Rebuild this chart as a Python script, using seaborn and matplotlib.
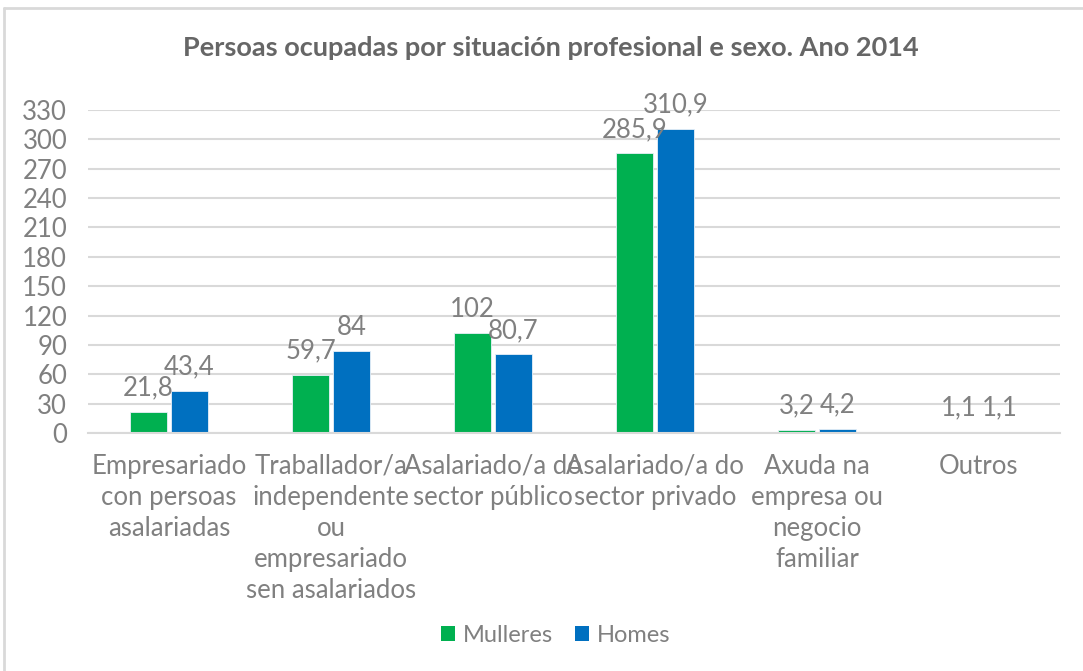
import matplotlib
matplotlib.use("Agg")
import matplotlib.pyplot as plt
import seaborn as sns
import pandas as pd
from matplotlib.lines import Line2D
from matplotlib.patches import Patch

categories = [
    "Empresariado\ncon persoas\nasalariadas",
    "Traballador/a\nindependente\nou\nempresariado\nsen asalariados",
    "Asalariado/a do\nsector público",
    "Asalariado/a do\nsector privado",
    "Axuda na\nempresa ou\nnegocio\nfamiliar",
    "Outros",
]
mulleres = [21.8, 59.7, 102, 285.9, 3.2, 1.1]
homes = [43.4, 84, 80.7, 310.9, 4.2, 1.1]
series = ["Mulleres", "Homes"]
colors = ["#00B050", "#0070C0"]
yticks = list(range(0, 331, 30))

df = pd.DataFrame({
    "cat": categories * 2,
    "serie": [series[0]] * 6 + [series[1]] * 6,
    "val": mulleres + homes,
})

sns.set_theme(style="white")
plt.rcParams["font.family"] = ["Lato", "DejaVu Sans"]
txt = "#808080"
fs = 18.5

fig = plt.figure(figsize=(10.83, 6.71), dpi=100)
ax = fig.add_axes([88 / 1083, 1 - 433 / 671, (1060 - 88) / 1083, (433 - 110) / 671])

sns.barplot(data=df, x="cat", y="val", hue="serie", hue_order=series,
            palette=colors, saturation=1, width=0.506, gap=0.12, ax=ax, legend=False,
            edgecolor="#e8f0f8", linewidth=0.6)

ax.set_ylim(0, 330)
ax.set_xlim(-0.5, 5.5)
ax.set_yticks(yticks)
ax.set_yticklabels([str(t) for t in yticks], color=txt, fontsize=fs)
ax.yaxis.grid(True, color="#d9d9d9", linewidth=1.5)
ax.set_axisbelow(True)
for s in ["top", "right", "left"]:
    ax.spines[s].set_visible(False)
ax.spines["bottom"].set_color("#d9d9d9")
ax.spines["bottom"].set_linewidth(1.5)
ax.tick_params(axis="y", length=0, pad=15)
ax.tick_params(axis="x", length=0, pad=15)
ax.set_xticks(range(len(categories)))
ax.set_xticklabels(categories, color=txt, fontsize=fs, linespacing=1.3, va="top")
ax.set_xlabel("")
ax.set_ylabel("")

def fmt(v):
    s = f"{v:g}"
    return s.replace(".", ",")

for cont, vals in zip(ax.containers, [mulleres, homes]):
    ax.bar_label(cont, labels=[fmt(v) for v in vals], padding=8, color=txt, fontsize=fs)

fig.text(0.509, 1 - 48 / 671, "Persoas ocupadas por situación profesional e sexo. Ano 2014",
         ha="center", va="center", fontsize=19.5, fontweight="bold", color="#666666")

handles = [Patch(facecolor=c, edgecolor="none") for c in colors]
fig.legend(handles, series, loc="center", bbox_to_anchor=(0.513, 1 - 635 / 671),
           ncol=2, frameon=False, fontsize=17, labelcolor=txt,
           handlelength=0.6, handleheight=0.6, handletextpad=0.35, columnspacing=0.9)

fig.add_artist(Line2D([4 / 1083, 1], [1 - 8 / 671, 1 - 8 / 671], color="#d9d9d9", lw=2, transform=fig.transFigure))
fig.add_artist(Line2D([4 / 1083, 4 / 1083], [0, 1 - 8 / 671], color="#d9d9d9", lw=2, transform=fig.transFigure))

fig.savefig("out.png", dpi=100, facecolor="white")
